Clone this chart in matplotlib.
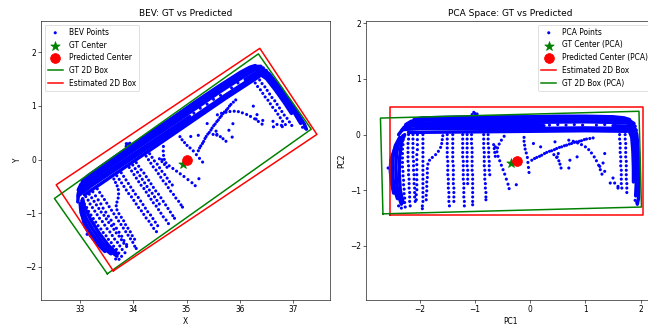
import numpy as np
import matplotlib
matplotlib.use("Agg")
import matplotlib.pyplot as plt

# ---------------- frame of the PCA projection ----------------
pca_mean = (34.94, 0.53)      # BEV position of the PCA origin
pca_angle_deg = 33.7          # direction of PC1 in the BEV plane

# ---------------- boxes / centres ----------------
est_box_pc1 = (-2.54, 2.05)   # estimated box, PCA frame (axis aligned)
est_box_pc2 = (-1.44, 0.49)
gt_center_bev = (34.93, -0.08)
gt_length = 4.68
gt_width = 1.72
gt_yaw_deg = 35.2

# ---------------- point cloud, PCA frame ----------------
# dense scan lines (solid looking parts of the cloud)
band_row_1 = [(-2.10, 0.27), (-1.95, 0.30), (-1.5, 0.31), (-1.0, 0.32), (-0.5, 0.32), (0.0, 0.32),
              (0.5, 0.33), (1.0, 0.33), (1.5, 0.32), (1.70, 0.30), (1.80, 0.27)]
band_row_2 = [(-2.25, 0.18), (-2.15, 0.24), (-1.9, 0.26), (-1.0, 0.27), (0.0, 0.27), (1.0, 0.28),
              (1.6, 0.27), (1.80, 0.25), (1.88, 0.20)]
band_row_3 = [(-2.32, 0.08), (-2.22, 0.19), (-2.0, 0.21), (-1.0, 0.22), (0.0, 0.22), (1.0, 0.23),
              (1.5, 0.22), (1.75, 0.21), (1.90, 0.15)]
band_row_4a = [(-2.38, 0.00), (-2.28, 0.13), (-2.1, 0.16), (-1.0, 0.16), (0.0, 0.16), (0.25, 0.16)]
band_row_4b = [(1.50, 0.16), (1.80, 0.15), (1.92, 0.08)]
band_row_5 = [(-2.30, 0.09), (-2.0, 0.11), (-1.0, 0.11), (0.0, 0.11), (1.0, 0.12), (1.7, 0.11), (1.85, 0.08)]
band_row_6 = [(-2.20, 0.04), (-1.0, 0.05), (0.0, 0.06), (1.0, 0.07), (1.75, 0.06)]
left_col_0 = [(-2.45, -0.25), (-2.52, -0.45), (-2.53, -0.65), (-2.51, -0.85), (-2.47, -1.05)]
left_col_1 = [(-2.36, -0.05), (-2.44, -0.20), (-2.48, -0.40), (-2.49, -0.60), (-2.48, -0.80),
              (-2.45, -1.00), (-2.40, -1.15)]
left_col_2 = [(-2.30, -0.02), (-2.38, -0.15), (-2.42, -0.35), (-2.43, -0.60), (-2.42, -0.85),
              (-2.38, -1.10), (-2.33, -1.25)]
left_col_3 = [(-2.27, 0.00), (-2.33, -0.15), (-2.36, -0.40), (-2.37, -0.70), (-2.35, -1.00), (-2.30, -1.22)]
right_col_1 = [(1.80, 0.25), (1.88, 0.15), (1.93, 0.00), (1.96, -0.30), (1.97, -0.60), (1.97, -0.90),
               (1.96, -1.15), (1.94, -1.25)]
right_col_2 = [(1.84, 0.10), (1.89, -0.05), (1.91, -0.30), (1.92, -0.60), (1.92, -0.90), (1.91, -1.10)]
right_col_3 = [(1.78, 0.10), (1.84, -0.05), (1.86, -0.30), (1.87, -0.60), (1.87, -0.85)]

# sparse strands (individual points)
strand_a = [(-2.29, -0.02), (-2.30, -0.10), (-2.30, -0.18), (-2.31, -0.26), (-2.31, -0.34), (-2.31, -0.42),
            (-2.31, -0.50), (-2.31, -0.58), (-2.30, -0.66), (-2.30, -0.74), (-2.29, -0.82), (-2.29, -0.90),
            (-2.28, -0.98), (-2.28, -1.06), (-2.27, -1.14), (-2.27, -1.22), (-2.26, -1.30)]
strand_b = [(-2.20, 0.00), (-2.20, -0.08), (-2.21, -0.16), (-2.21, -0.24), (-2.21, -0.32), (-2.21, -0.40),
            (-2.21, -0.48), (-2.20, -0.56), (-2.20, -0.64), (-2.20, -0.72), (-2.19, -0.80), (-2.19, -0.88),
            (-2.19, -0.96), (-2.18, -1.04), (-2.18, -1.12), (-2.18, -1.20), (-2.17, -1.28)]
strand_c = [(-2.12, 0.00), (-2.12, -0.08), (-2.12, -0.16), (-2.12, -0.24), (-2.12, -0.32), (-2.12, -0.40),
            (-2.11, -0.48), (-2.11, -0.56), (-2.11, -0.64), (-2.10, -0.72), (-2.10, -0.80), (-2.10, -0.88),
            (-2.09, -0.96), (-2.09, -1.04), (-2.09, -1.12), (-2.08, -1.20)]
strand_d = [(-2.04, 0.00), (-2.04, -0.09), (-2.04, -0.18), (-2.04, -0.27), (-2.05, -0.36), (-2.05, -0.45),
            (-2.05, -0.54), (-2.05, -0.63), (-2.05, -0.72), (-2.05, -0.81), (-2.05, -0.90), (-2.05, -0.99),
            (-2.06, -1.08), (-2.06, -1.17)]
strand_e = [(-1.94, 0.00), (-1.94, -0.08), (-1.94, -0.16), (-1.94, -0.24), (-1.94, -0.32), (-1.94, -0.40),
            (-1.94, -0.48), (-1.94, -0.56), (-1.94, -0.64), (-1.94, -0.72), (-1.94, -0.80), (-1.94, -0.88),
            (-1.94, -0.96), (-1.94, -1.04), (-1.94, -1.12), (-1.94, -1.20), (-1.95, -1.28), (-1.95, -1.33)]
strand_f = [(-1.58, -0.02), (-1.59, -0.09), (-1.60, -0.16), (-1.62, -0.23), (-1.66, -0.30), (-1.71, -0.36),
            (-1.77, -0.41), (-1.82, -0.46), (-1.85, -0.53), (-1.86, -0.61), (-1.86, -0.69), (-1.86, -0.77),
            (-1.87, -0.85), (-1.87, -0.93), (-1.87, -1.01), (-1.88, -1.09), (-1.88, -1.17)]
strand_g = [(-1.50, 0.00), (-1.50, -0.08), (-1.50, -0.16), (-1.50, -0.24), (-1.50, -0.32), (-1.50, -0.40),
            (-1.49, -0.48), (-1.49, -0.56), (-1.49, -0.64), (-1.49, -0.72), (-1.48, -0.80), (-1.48, -0.88),
            (-1.48, -0.96), (-1.47, -1.04), (-1.47, -1.12), (-1.47, -1.20), (-1.46, -1.28)]
strand_h = [(-1.40, 0.00), (-1.40, -0.08), (-1.40, -0.16), (-1.40, -0.24), (-1.40, -0.32), (-1.40, -0.40),
            (-1.40, -0.48), (-1.39, -0.56), (-1.39, -0.64), (-1.39, -0.72), (-1.39, -0.80), (-1.39, -0.88),
            (-1.38, -0.96), (-1.38, -1.04), (-1.38, -1.12), (-1.38, -1.20)]
strand_i = [(-1.22, 0.00), (-1.22, -0.08), (-1.22, -0.16), (-1.22, -0.24), (-1.22, -0.32), (-1.22, -0.40),
            (-1.21, -0.48), (-1.21, -0.56), (-1.21, -0.64), (-1.21, -0.72), (-1.21, -0.80), (-1.20, -0.88),
            (-1.20, -0.96), (-1.20, -1.04), (-1.20, -1.12), (-1.19, -1.20), (-1.19, -1.28)]
strand_i2 = [(-1.14, 0.00), (-1.14, -0.08), (-1.14, -0.16), (-1.14, -0.24), (-1.14, -0.32), (-1.14, -0.40),
             (-1.14, -0.48), (-1.14, -0.56), (-1.13, -0.64), (-1.13, -0.72), (-1.13, -0.80), (-1.13, -0.88)]
strand_j = [(-1.06, 0.00), (-1.06, -0.08), (-1.06, -0.16), (-1.05, -0.24), (-1.05, -0.32), (-1.05, -0.40),
            (-1.05, -0.48), (-1.05, -0.56), (-1.05, -0.64), (-1.04, -0.72), (-1.04, -0.80), (-1.04, -0.88),
            (-1.04, -0.96), (-1.04, -1.04), (-1.04, -1.12), (-1.04, -1.20), (-1.04, -1.26)]
strand_l = [(-0.84, 0.00), (-0.84, -0.08), (-0.84, -0.16), (-0.84, -0.24), (-0.83, -0.32), (-0.83, -0.40),
            (-0.83, -0.48), (-0.83, -0.56), (-0.82, -0.64), (-0.82, -0.72), (-0.82, -0.80), (-0.81, -0.88),
            (-0.81, -0.96), (-0.80, -1.04), (-0.80, -1.12), (-0.80, -1.17)]
strand_l2 = [(-0.76, 0.00), (-0.76, -0.08), (-0.76, -0.16), (-0.75, -0.24), (-0.75, -0.32), (-0.75, -0.40),
             (-0.74, -0.48), (-0.74, -0.56), (-0.74, -0.64), (-0.73, -0.72)]
strand_m = [(-0.47, -0.03), (-0.52, -0.10), (-0.56, -0.17), (-0.59, -0.24), (-0.60, -0.31), (-0.58, -0.39),
            (-0.55, -0.47), (-0.52, -0.55), (-0.49, -0.63), (-0.46, -0.71), (-0.43, -0.80), (-0.40, -0.89),
            (-0.38, -0.97)]
strand_n = [(-0.66, -0.18), (-0.65, -0.25), (-0.64, -0.32), (-0.63, -0.39)]
strand_p = [(-0.11, -0.05), (-0.11, -0.12), (-0.10, -0.19), (-0.09, -0.26), (-0.07, -0.33), (-0.05, -0.41),
            (-0.04, -0.50), (-0.03, -0.59), (-0.02, -0.68)]
strand_q = [(0.03, -0.46), (0.08, -0.43), (0.12, -0.41), (0.17, -0.39), (0.21, -0.37), (0.26, -0.34),
            (0.30, -0.32), (0.35, -0.30), (0.39, -0.29), (0.44, -0.27), (0.48, -0.25), (0.53, -0.23),
            (0.57, -0.22), (0.62, -0.20), (0.66, -0.19), (0.71, -0.17), (0.75, -0.16), (0.80, -0.14),
            (0.84, -0.13), (0.89, -0.12), (0.93, -0.11), (0.98, -0.09), (1.02, -0.08), (1.08, -0.07),
            (1.14, -0.06)]
strand_r = [(0.43, -0.36), (0.48, -0.41), (0.52, -0.47), (0.54, -0.53), (0.56, -0.60)]
strand_s = [(0.70, -0.10), (0.78, -0.12), (0.86, -0.15), (0.93, -0.18), (1.00, -0.22), (1.06, -0.27),
            (1.11, -0.33), (1.16, -0.40), (1.20, -0.47), (1.24, -0.55), (1.27, -0.63), (1.30, -0.71)]
strand_u = [(1.35, -0.34), (1.32, -0.51), (1.26, -0.57), (1.35, -0.66), (1.50, -0.78), (1.53, -0.87),
            (1.59, -0.96), (1.45, -0.87)]
strand_v1 = [(1.62, 0.00), (1.62, -0.08), (1.63, -0.16), (1.63, -0.24), (1.63, -0.32), (1.64, -0.40),
             (1.64, -0.48), (1.64, -0.56), (1.65, -0.64), (1.65, -0.72), (1.65, -0.80), (1.65, -0.88),
             (1.66, -0.96)]
strand_v2 = [(1.72, 0.00), (1.72, -0.08), (1.73, -0.16), (1.73, -0.24), (1.73, -0.32), (1.73, -0.40),
             (1.74, -0.48), (1.74, -0.56), (1.74, -0.64), (1.74, -0.72), (1.74, -0.80), (1.75, -0.88),
             (1.75, -0.96), (1.75, -1.04)]
loose_dots = [(-1.05, 0.36), (-1.00, 0.38), (-0.96, 0.37), (-1.02, 0.40), (-0.99, 0.35),
              (-2.57, -0.60), (-2.38, -1.28), (-2.33, -1.32), (-0.25, -0.90), (-0.63, -0.22),
              (0.06, -0.16), (0.19, -0.22), (0.45, -0.13), (0.49, -0.40), (0.70, -0.60), (0.85, -0.40),
              (0.72, -0.46), (0.51, -0.34), (1.59, -0.93), (1.93, -1.22), (1.90, -1.18),
              (0.35, 0.17), (0.50, 0.18), (0.65, 0.17), (0.80, 0.18), (0.95, 0.17), (1.20, 0.17), (1.35, 0.18)]

dense_lines = [band_row_1, band_row_2, band_row_3, band_row_4a, band_row_4b, band_row_5, band_row_6,
               left_col_0, left_col_1, left_col_2, left_col_3, right_col_1, right_col_2, right_col_3]
sparse_sets = [strand_a, strand_b, strand_c, strand_d, strand_e, strand_f, strand_g, strand_h, strand_i,
               strand_i2, strand_j, strand_l, strand_l2, strand_m, strand_n, strand_p, strand_q, strand_r,
               strand_s, strand_u, strand_v1, strand_v2, loose_dots]

# ---------------- transforms ----------------
th = np.deg2rad(pca_angle_deg)
u = np.array([np.cos(th), np.sin(th)])
v = np.array([-np.sin(th), np.cos(th)])
mean = np.array(pca_mean)


def pca_to_bev(p):
    p = np.asarray(p, dtype=float).reshape(-1, 2)
    return mean + p[:, :1] * u + p[:, 1:2] * v


def bev_to_pca(b):
    b = np.asarray(b, dtype=float).reshape(-1, 2) - mean
    return np.column_stack([b @ u, b @ v])


# estimated box
est_corners_pca = np.array([(est_box_pc1[0], est_box_pc2[0]), (est_box_pc1[1], est_box_pc2[0]),
                            (est_box_pc1[1], est_box_pc2[1]), (est_box_pc1[0], est_box_pc2[1]),
                            (est_box_pc1[0], est_box_pc2[0])])
est_center_pca = np.array([[np.mean(est_box_pc1), np.mean(est_box_pc2)]])
est_corners_bev = pca_to_bev(est_corners_pca)
est_center_bev = pca_to_bev(est_center_pca)

# GT box
gy = np.deg2rad(gt_yaw_deg)
gu = np.array([np.cos(gy), np.sin(gy)])
gv = np.array([-np.sin(gy), np.cos(gy)])
half = [(-1, -1), (1, -1), (1, 1), (-1, 1), (-1, -1)]
gt_corners_bev = np.array([np.array(gt_center_bev) + a * gt_length / 2 * gu + b * gt_width / 2 * gv
                           for a, b in half])
gt_corners_pca = bev_to_pca(gt_corners_bev)
gt_center_pca = bev_to_pca(gt_center_bev)

# ---------------- figure ----------------
DPI = 54
W, H = 648, 326
fig = plt.figure(figsize=(W / DPI, H / DPI), dpi=DPI)
ax1 = fig.add_axes([41 / W, 26 / H, 289 / W, 279 / H])
ax2 = fig.add_axes([366 / W, 26 / H, 289 / W, 279 / H])

PT_S = 17
LINE_W = 4.6


def draw_cloud(ax, conv, label):
    for ln in dense_lines:
        q = conv(ln)
        ax.plot(q[:, 0], q[:, 1], color="blue", lw=LINE_W, solid_capstyle="round",
                solid_joinstyle="round", zorder=2)
    pts = np.vstack([conv(s) for s in sparse_sets])
    ax.scatter(pts[:, 0], pts[:, 1], s=PT_S, color="blue", edgecolors="none", label=label, zorder=2)


# BEV
draw_cloud(ax1, pca_to_bev, "BEV Points")
ax1.scatter([gt_center_bev[0]], [gt_center_bev[1]], marker="*", s=170, color="green", label="GT Center", zorder=3)
ax1.scatter(est_center_bev[:, 0], est_center_bev[:, 1], marker="o", s=170, color="red",
            label="Predicted Center", zorder=3)
ax1.plot(gt_corners_bev[:, 0], gt_corners_bev[:, 1], color="green", lw=2, label="GT 2D Box", zorder=4)
ax1.plot(est_corners_bev[:, 0], est_corners_bev[:, 1], color="red", lw=2, label="Estimated 2D Box", zorder=4)
ax1.set_xlim(32.27, 37.69)
ax1.set_ylim(-2.62, 2.585)
ax1.set_title("BEV: GT vs Predicted", fontsize=12)
ax1.set_xlabel("X")
ax1.set_ylabel("Y")
ax1.legend(loc="upper left")

# PCA
draw_cloud(ax2, lambda p: np.asarray(p, dtype=float).reshape(-1, 2), "PCA Points")
ax2.scatter(gt_center_pca[:, 0], gt_center_pca[:, 1], marker="*", s=170, color="green",
            label="GT Center (PCA)", zorder=3)
ax2.scatter(est_center_pca[:, 0], est_center_pca[:, 1], marker="o", s=170, color="red",
            label="Predicted Center (PCA)", zorder=3)
ax2.plot(est_corners_pca[:, 0], est_corners_pca[:, 1], color="red", lw=2, label="Estimated 2D Box", zorder=4)
ax2.plot(gt_corners_pca[:, 0], gt_corners_pca[:, 1], color="green", lw=2, label="GT 2D Box (PCA)", zorder=4)
ax2.set_xlim(-2.97, 2.26)
ax2.set_ylim(-2.97, 2.04)
ax2.set_title("PCA Space: GT vs Predicted", fontsize=12)
ax2.set_xlabel("PC1")
ax2.set_ylabel("PC2")
ax2.legend(loc="upper right")

fig.savefig("out.png", dpi=DPI)
